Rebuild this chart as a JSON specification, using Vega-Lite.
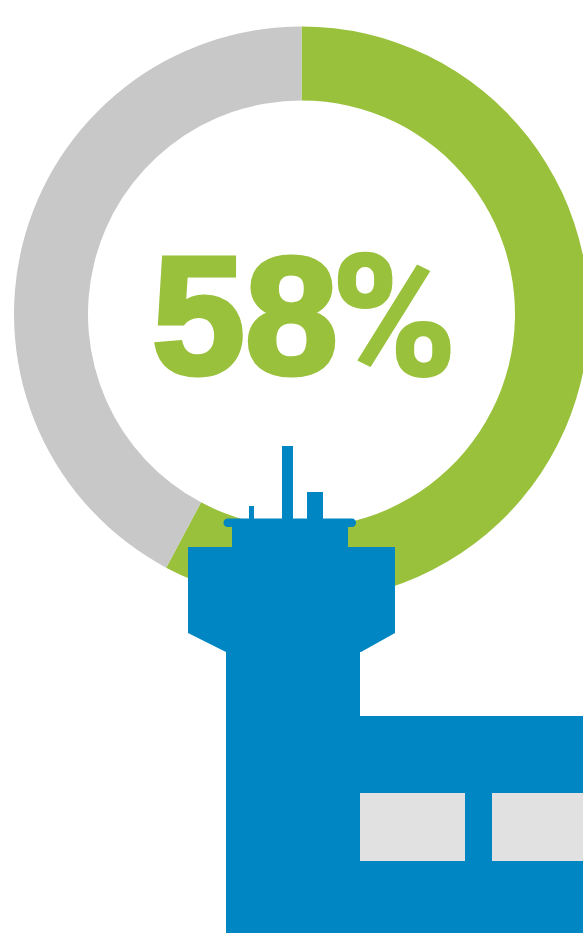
{
"$schema":"https://vega.github.io/schema/vega-lite/v6.json",
"width":583,"height":933,"padding":0,"autosize":{"type":"none"},
"background":"white",
"view":{"stroke":null},
"config":{"axis":{"disable":true},"legend":{"disable":true}},
"layer":[
{"data":{"values":[{"group":"Share","start":0,"end":57.8},{"group":"Remainder","start":57.8,"end":100}]},
 "mark":{"type":"arc","innerRadius":213.5,"outerRadius":287.5},
 "encoding":{
  "x":{"datum":301.5,"type":"quantitative","scale":{"domain":[0,583],"range":[0,583]}},
  "y":{"datum":314,"type":"quantitative","scale":{"domain":[0,933],"range":[0,933]}},
  "theta":{"field":"start","type":"quantitative","scale":{"domain":[0,100],"range":[0,6.2832]},"stack":null},
  "theta2":{"field":"end"},
  "color":{"field":"group","type":"nominal","scale":{"domain":["Share","Remainder"],"range":["#99C13B","#C8C8C8"]}}
 }},
{"data":{"values":[{"label":"58"}]},
 "mark":{"type":"text","font":"Liberation Sans","fontWeight":"bold","fontSize":167,"align":"left","baseline":"alphabetic","fill":"#99C13B","stroke":"#99C13B","strokeWidth":5},
 "encoding":{
  "x":{"datum":152,"type":"quantitative","scale":{"domain":[0,583],"range":[0,583]}},
  "y":{"datum":373,"type":"quantitative","scale":{"domain":[0,933],"range":[0,933]}},
  "text":{"field":"label"}
 }},
{"data":{"values":[{"label":"%"}]},
 "mark":{"type":"text","font":"Roboto","fontWeight":900,"fontSize":172,"align":"center","baseline":"alphabetic","fill":"#99C13B"},
 "encoding":{
  "x":{"datum":394,"type":"quantitative","scale":{"domain":[0,583],"range":[0,583]}},
  "y":{"datum":376,"type":"quantitative","scale":{"domain":[0,933],"range":[0,933]}},
  "text":{"field":"label"}
 }},
{"data":{"values":[
 {"x0":282,"x1":293,"y0":446,"y1":525},
 {"x0":307,"x1":323,"y0":492,"y1":525},
 {"x0":249,"x1":254,"y0":506,"y1":525},
 {"x0":232,"x1":348,"y0":519,"y1":550},
 {"x0":226,"x1":360,"y0":640,"y1":933},
 {"x0":360,"x1":583,"y0":716,"y1":933}
 ]},
 "mark":{"type":"rect","fill":"#0087C3"},
 "encoding":{
  "x":{"field":"x0","type":"quantitative","scale":{"domain":[0,583],"range":[0,583]}},"x2":{"field":"x1"},
  "y":{"field":"y0","type":"quantitative","scale":{"domain":[0,933],"range":[0,933]}},"y2":{"field":"y1"}
 }},
{"data":{"values":[{"x0":223.5,"x1":356,"y0":518.5,"y1":527}]},
 "mark":{"type":"rect","fill":"#0087C3","cornerRadius":4},
 "encoding":{
  "x":{"field":"x0","type":"quantitative","scale":{"domain":[0,583],"range":[0,583]}},"x2":{"field":"x1"},
  "y":{"field":"y0","type":"quantitative","scale":{"domain":[0,933],"range":[0,933]}},"y2":{"field":"y1"}
 }},
{"data":{"values":[
 {"x":188,"top":547,"bottom":633},
 {"x":226,"top":547,"bottom":652},
 {"x":361,"top":547,"bottom":652},
 {"x":395,"top":547,"bottom":633}
 ]},
 "mark":{"type":"area","fill":"#0087C3","interpolate":"linear"},
 "encoding":{
  "x":{"field":"x","type":"quantitative","scale":{"domain":[0,583],"range":[0,583]}},
  "y":{"field":"top","type":"quantitative","scale":{"domain":[0,933],"range":[0,933]}},"y2":{"field":"bottom"}
 }},
{"data":{"values":[
 {"x0":360,"x1":465,"y0":793,"y1":861},
 {"x0":492,"x1":583,"y0":793,"y1":861}
 ]},
 "mark":{"type":"rect","fill":"#E1E1E1"},
 "encoding":{
  "x":{"field":"x0","type":"quantitative","scale":{"domain":[0,583],"range":[0,583]}},"x2":{"field":"x1"},
  "y":{"field":"y0","type":"quantitative","scale":{"domain":[0,933],"range":[0,933]}},"y2":{"field":"y1"}
 }}
]
}
